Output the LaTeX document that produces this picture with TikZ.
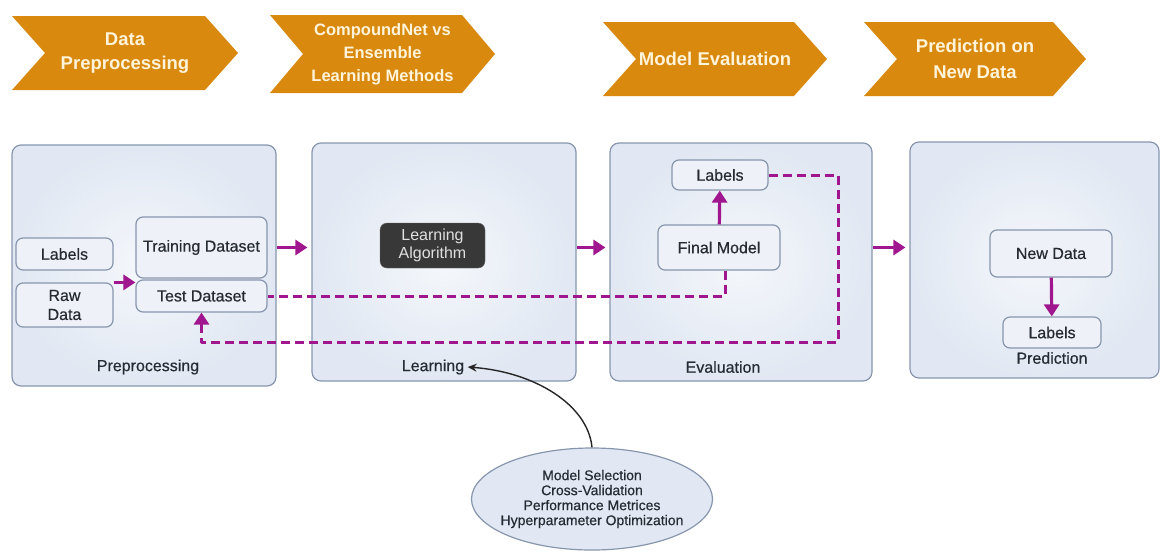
\documentclass[tikz,border=0pt]{standalone}
\usepackage{fontspec}
\setmainfont{Liberation Sans}
\newfontfamily\medfont{Liberation Sans}[FakeBold=0.5]
\usetikzlibrary{arrows.meta,shapes.geometric}
\definecolor{chev}{HTML}{D8890E}
\definecolor{chevtext}{HTML}{FFF4DA}
\definecolor{panelfill}{HTML}{E1E8F3}
\definecolor{edge}{HTML}{8796AD}
\definecolor{flow}{HTML}{A0168E}
\definecolor{ink}{HTML}{262B33}
\begin{document}
\begin{tikzpicture}[x=1pt, y=-1pt, font=\medfont\fontsize{16}{19}\selectfont, text=ink, line join=round,
    >={Triangle[length=12pt,width=15pt]},
    panel/.style={draw=edge, line width=1.2pt, inner color=panelfill!35!white, outer color=panelfill, rounded corners=9pt, inner sep=0pt},
    box/.style={draw=edge, line width=1.2pt, fill=panelfill!55!white, rounded corners=7pt, align=center, inner sep=0pt},
    flowarrow/.style={draw=flow, line width=3.2pt, ->},
    loopback/.style={draw=flow, line width=3pt, dash pattern=on 9pt off 5pt}]
    \useasboundingbox (0,0) rectangle (1161,552);
    \def\tip{33} % depth of chevron point and notch
    % stage banners
    \foreach \l/\t/\b/\r/\fs/\ls/\txt [count=\i] in {12/16/90/205/18.5/24/{Data\\Preprocessing},
        270/15/93/462/16.5/23/{CompoundNet vs\\Ensemble\\Learning Methods},
        603/22/96/794/18.5/24/{Model Evaluation}, 864/22/96/1053/18.5/26/{Prediction on\\New Data}}{
        \fill[chev] (\l,\t) -- (\r,\t) -- (\r+\tip,{(\t+\b)/2}) -- (\r,\b) -- (\l,\b) -- (\l+\tip,{(\t+\b)/2}) -- cycle;
        \node[text=chevtext, align=center, font=\fontsize{\fs}{\ls}\selectfont\bfseries] (head\i) at ({(\l+\tip+\r)/2},{(\t+\b)/2}) {\txt};
    }
    % panels
    \node[panel, minimum width=264, minimum height=241] (prep) at (144,265.5) {};
    \node[panel, minimum width=264, minimum height=238] (learn) at (444,262) {};
    \node[panel, minimum width=262, minimum height=238] (evalu) at (741,262) {};
    \node[panel, minimum width=249, minimum height=236] (pred) at (1034.5,260) {};
    \node (preplbl) at (148,367) {Preprocessing};
    \node (learnlbl) at (433,367) {Learning};
    \node (evallbl) at (723,367) {Evaluation};
    \node (predlbl) at (1052,358) {Prediction};
    % inner boxes
    \node[box, minimum width=97, minimum height=32] (lab1) at (64.5,254) {Labels};
    \node[box, minimum width=97, minimum height=44] (raw) at (64.5,305) {Raw\\Data};
    \node[box, minimum width=131, minimum height=61] (train) at (201.5,247.5) {Training Dataset};
    \node[box, minimum width=131, minimum height=32] (test) at (201.5,296) {Test Dataset};
    \node[draw=black!60, fill=black!78, rounded corners=7pt, minimum width=105, minimum height=45, inner sep=0pt,
        align=center, text=black!12, font=\normalfont\fontsize{16}{18}\selectfont] (algo) at (432.5,245.5) {Learning\\Algorithm};
    \node[box, minimum width=96, minimum height=30] (lab3) at (720,175) {Labels};
    \node[box, minimum width=122, minimum height=45] (final) at (719,247.5) {Final Model};
    \node[box, minimum width=122, minimum height=47] (newd) at (1051,253.5) {New Data};
    \node[box, minimum width=98, minimum height=31] (lab4) at (1052,332.5) {Labels};
    % tuning ellipse
    \node[ellipse, draw=edge, line width=1.2pt, fill=panelfill, minimum width=241, minimum height=102] (tune) at (592,499) {};
    \node[align=center, font=\medfont\fontsize{14}{15}\selectfont] (tunetxt) at (tune) {Model Selection\\Cross-Validation\\Performance Metrices\\Hyperparameter Optimization};
    % connectors
    \draw[flowarrow] (raw.north east) -- (raw.north east -| test.west);
    \draw[flowarrow, shorten >=4pt] (prep.east |- train) -- (learn.west |- train);
    \draw[flowarrow, shorten >=4pt] (learn.east |- train) -- (evalu.west |- train);
    \draw[flowarrow, shorten >=4pt] (evalu.east |- train) -- (pred.west |- train);
    \draw[flowarrow] (final) -- (lab3);
    \draw[flowarrow] (newd) -- (lab4);
    \draw[loopback] ([xshift=6pt]final.south) |- (test.east);
    \draw[loopback, ->] (lab3.east) -| (838,342) -| (test.south);
    \draw[-{Stealth[length=9pt,width=8pt]}, line width=1.4pt, black!85] (tune.north) .. controls (588,405) and (535,372) .. (learnlbl.east);
\end{tikzpicture}
\end{document}
